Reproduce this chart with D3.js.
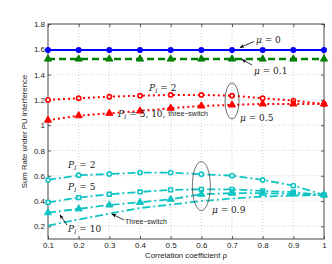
<!DOCTYPE html>
<html><head><meta charset="utf-8">
<script src="https://cdn.jsdelivr.net/npm/d3@7"></script>
<style>body{margin:0;background:#fff}svg{display:block}</style>
</head><body><svg id="c" width="332" height="264"></svg>
<script>
const rho = [0.1,0.2,0.3,0.4,0.5,0.6,0.7,0.8,0.9,1.0];
const xTicks = [0.1,0.2,0.3,0.4,0.5,0.6,0.7,0.8,0.9,1];
const yTicks = [0.2,0.4,0.6,0.8,1,1.2,1.4,1.6,1.8];
const mu0 = [1.595,1.595,1.595,1.595,1.595,1.595,1.595,1.595,1.595,1.595];
const mu01 = [1.523,1.523,1.523,1.523,1.523,1.523,1.523,1.523,1.523,1.523];
const mu05_P2 = [1.200,1.213,1.225,1.233,1.239,1.239,1.233,1.213,1.194,1.168];
const mu05_rest = [1.040,1.075,1.094,1.112,1.134,1.152,1.160,1.168,1.168,1.168];
const mu09_P2 = [0.567,0.604,0.614,0.625,0.625,0.612,0.601,0.567,0.522,0.448];
const mu09_P5 = [0.390,0.427,0.454,0.472,0.488,0.493,0.493,0.480,0.470,0.448];
const mu09_P10 = [0.308,0.338,0.369,0.390,0.414,0.454,0.462,0.462,0.456,0.448];
const mu09_three = [0.206,0.255,0.300,0.345,0.372,0.400,0.420,0.435,0.443,0.448];

const svg = d3.select('#c');
const L=48,T=24,R=324,B=239;
const x = d3.scaleLinear().domain([0.1,1]).range([L,R]);
const y = d3.scaleLinear().domain([0.1,1.8]).range([B,T]);
const sans = 'Liberation Sans, Arial, sans-serif';
const serif = 'DejaVu Serif, Liberation Serif, serif';

// grid
const g = svg.append('g');
g.selectAll('.vg').data(xTicks.slice(1,-1)).join('line')
  .attr('x1',d=>x(d)).attr('x2',d=>x(d)).attr('y1',T).attr('y2',B)
  .attr('stroke','#c8c8c8').attr('stroke-width',0.8).attr('stroke-dasharray','1,2');
g.selectAll('.hg').data(yTicks.slice(0,-1)).join('line')
  .attr('x1',L).attr('x2',R).attr('y1',d=>y(d)).attr('y2',d=>y(d))
  .attr('stroke','#c8c8c8').attr('stroke-width',0.8).attr('stroke-dasharray','1,2');

// axes
const xa = svg.append('g').attr('transform',`translate(0,${B})`)
  .call(d3.axisBottom(x).tickValues(xTicks).tickSize(-3).tickPadding(3).tickFormat(d3.format('~g')));
const xa2 = svg.append('g').attr('transform',`translate(0,${T})`)
  .call(d3.axisTop(x).tickValues(xTicks).tickSize(-3).tickFormat(''));
const ya = svg.append('g').attr('transform',`translate(${L},0)`)
  .call(d3.axisLeft(y).tickValues(yTicks).tickSize(-3).tickPadding(3).tickFormat(d3.format('~g')));
const ya2 = svg.append('g').attr('transform',`translate(${R},0)`)
  .call(d3.axisRight(y).tickValues(yTicks).tickSize(-3).tickFormat(''));
[xa,xa2,ya,ya2].forEach(a=>{
  a.select('.domain').remove();
  a.selectAll('line').attr('stroke','#333').attr('stroke-width',0.8);
  a.selectAll('text').attr('font-family',sans).attr('font-size',8).attr('fill','#222');
});
svg.append('rect').attr('x',L).attr('y',T).attr('width',R-L).attr('height',B-T)
  .attr('fill','none').attr('stroke','#444').attr('stroke-width',1);

svg.append('text').attr('x',(L+R)/2).attr('y',258).attr('text-anchor','middle')
  .attr('font-family',sans).attr('font-size',7.8).attr('fill','#222').text('Correlation coefficient ρ');
svg.append('text').attr('transform',`translate(27,${(T+B)/2}) rotate(-90)`).attr('text-anchor','middle')
  .attr('font-family',sans).attr('font-size',7.8).attr('fill','#222').text('Sum Rate under PU Interference');

// series
const pts = v => rho.map((r,i)=>[r,v[i]]);
const line = d3.line().x(d=>x(d[0])).y(d=>y(d[1]));
const series = [
  {v:mu0,c:'#0000ff',w:2,dash:null,m:'fcircle'},
  {v:mu01,c:'#008000',w:2.6,dash:'7,4',m:'ftri'},
  {v:mu05_P2,c:'#ff0000',w:2,dash:'2,3',m:'ocircle'},
  {v:mu05_rest,c:'#ff0000',w:2,dash:'2,3',m:'ftri'},
  {v:mu09_P2,c:'#11c4c4',w:1.8,dash:'8,3,2,3',m:'ocircle'},
  {v:mu09_P5,c:'#11c4c4',w:1.8,dash:'8,3,2,3',m:'osquare'},
  {v:mu09_P10,c:'#11c4c4',w:1.8,dash:'8,3,2,3',m:'ftri'},
  {v:mu09_three,c:'#11c4c4',w:1.8,dash:'8,3,2,3',m:null}
];
series.forEach(s=>{
  svg.append('path').attr('d',line(pts(s.v))).attr('fill','none')
    .attr('stroke',s.c).attr('stroke-width',s.w).attr('stroke-dasharray',s.dash);
  if(!s.m) return;
  const sel = svg.append('g').selectAll('path').data(pts(s.v)).join('path')
    .attr('transform',d=>`translate(${x(d[0])},${y(d[1])})`);
  if(s.m==='fcircle') sel.attr('d',d3.symbol(d3.symbolCircle,28)).attr('fill',s.c);
  if(s.m==='ftri') sel.attr('d',d3.symbol(d3.symbolTriangle,22)).attr('fill',s.c).attr('stroke',s.c).attr('stroke-width',1);
  if(s.m==='ocircle') sel.attr('d',d3.symbol(d3.symbolCircle,14)).attr('fill','#fff').attr('stroke',s.c).attr('stroke-width',1.6);
  if(s.m==='osquare') sel.attr('d',d3.symbol(d3.symbolSquare,14)).attr('fill','#fff').attr('stroke',s.c).attr('stroke-width',1.6);
});

// annotations
const defs = svg.append('defs');
defs.append('marker').attr('id','ah').attr('viewBox','0 0 10 10').attr('refX',9).attr('refY',5)
  .attr('markerWidth',6).attr('markerHeight',6).attr('orient','auto')
  .append('path').attr('d','M0,1 L10,5 L0,9 L3,5 Z').attr('fill','#000');
function arrow(x1,y1,x2,y2){
  svg.append('line').attr('x1',x1).attr('y1',y1).attr('x2',x2).attr('y2',y2)
    .attr('stroke','#000').attr('stroke-width',0.8).attr('marker-end','url(#ah)');
}
function mu(xp,yp,val){
  const t = svg.append('text').attr('x',xp).attr('y',yp).attr('font-family',serif).attr('font-size',9).attr('fill','#222');
  t.append('tspan').attr('font-style','italic').text('μ');
  t.append('tspan').text(' = '+val);
}
function pI(xp,yp,val,extra){
  const t = svg.append('text').attr('x',xp).attr('y',yp).attr('font-family',serif).attr('font-size',9).attr('fill','#222');
  t.append('tspan').attr('font-style','italic').text('P');
  t.append('tspan').attr('font-style','italic').attr('font-size',6).attr('dy',2).text('I');
  t.append('tspan').attr('dy',-2).text(' = '+val);
  if(extra) t.append('tspan').attr('font-family',sans).attr('font-size',7).attr('dy',-1).text(extra);
}
mu(256,43,'0'); arrow(254,41.5,240,47.5);
mu(254,74,'0.1'); arrow(252,65,242,59.5);
pI(149,91,'2');
pI(118,117,'5, 10, ','three−switch');
svg.append('ellipse').attr('cx',x(0.7)).attr('cy',101).attr('rx',7).attr('ry',18)
  .attr('fill','none').attr('stroke','#333').attr('stroke-width',0.7);
mu(240,121,'0.5');
pI(68,168,'2');
pI(68,190,'5');
pI(68,232,'10'); arrow(67,225,60,215);
svg.append('text').attr('x',125).attr('y',224).attr('font-family',sans).attr('font-size',7).attr('fill','#222').text('Three−switch');
arrow(124,220,112,214);
svg.append('ellipse').attr('cx',x(0.6)).attr('cy',186).attr('rx',9).attr('ry',24.5)
  .attr('fill','none').attr('stroke','#333').attr('stroke-width',0.7);
mu(212,213,'0.9');
</script></body></html>
